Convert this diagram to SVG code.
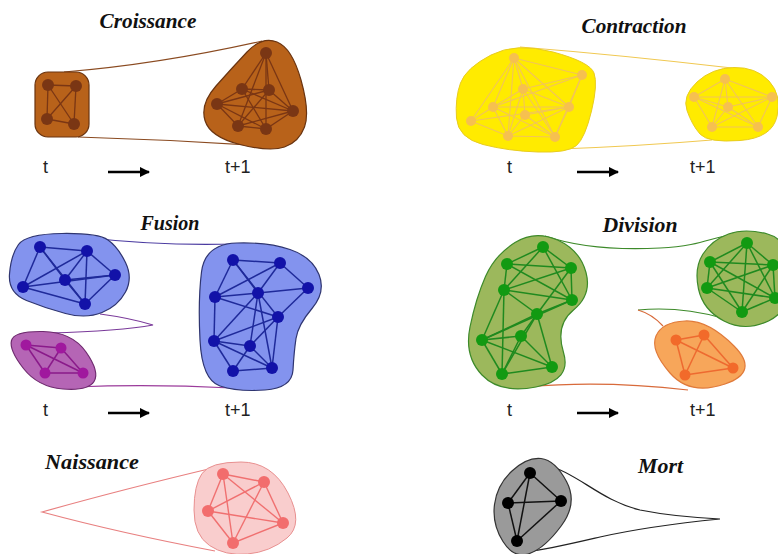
<svg xmlns="http://www.w3.org/2000/svg" width="778" height="554" viewBox="0 0 778 554">
<style>
.title{font-family:"Liberation Serif","Times New Roman",serif;font-weight:bold;font-style:italic;font-size:20px;fill:#111}
.tl{font-family:"Liberation Sans",Arial,sans-serif;font-size:18px;fill:#222}
.axis{stroke:#000;stroke-width:2.6;fill:none}
.cro .blob{fill:#b8621a;stroke:#6a3410;stroke-width:1.2}
.cro line{stroke:#7a3614;stroke-width:1.3}
.cro circle{fill:#7a3614}
.con .blob{fill:#ffeb00;stroke:#e8cc20;stroke-width:1}
.con line{stroke:#f2c45a;stroke-width:1.1}
.con circle{fill:#f6c050}
.blue .blob{fill:#8393ee;stroke:#2f3570;stroke-width:1.2}
.blue line{stroke:#1f2a9a;stroke-width:1.5}
.blue circle{fill:#1212a8}
.pur .blob{fill:#b565b5;stroke:#6e2a6e;stroke-width:1.2}
.pur line{stroke:#8a1a8a;stroke-width:1.5}
.pur circle{fill:#a0189e}
.grn .blob{fill:#9cb85c;stroke:#3d8a2a;stroke-width:1.2}
.grn line{stroke:#1f8a1f;stroke-width:1.5}
.grn circle{fill:#129a12}
.org .blob{fill:#f7a65a;stroke:#e07a3a;stroke-width:1.2}
.org line{stroke:#ee6a30;stroke-width:1.5}
.org circle{fill:#f26a2a}
.pink .blob{fill:#f9cdcd;stroke:#e89090;stroke-width:1}
.pink line{stroke:#f07070;stroke-width:1.4}
.pink circle{fill:#f26d6d}
.gray .blob{fill:#9a9a9a;stroke:#333;stroke-width:1.2}
.gray line{stroke:#111;stroke-width:1.5}
.gray circle{fill:#000}
.env{fill:none;stroke-width:1.2}
</style>
<defs>
<marker id="ah" viewBox="0 0 10 10" refX="9" refY="5" markerWidth="4" markerHeight="4" markerUnits="strokeWidth" orient="auto">
<path d="M0,0 L10,5 L0,10 Z" fill="#000"/>
</marker>
</defs>
<rect width="778" height="554" fill="#fff"/>

<g id="titles">
<text class="title" x="148" y="28" text-anchor="middle" textLength="97" lengthAdjust="spacingAndGlyphs">Croissance</text>
<text class="title" x="634" y="33" text-anchor="middle" textLength="105" lengthAdjust="spacingAndGlyphs">Contraction</text>
<text class="title" x="170" y="230" text-anchor="middle" textLength="59" lengthAdjust="spacingAndGlyphs">Fusion</text>
<text class="title" x="640" y="232" text-anchor="middle" textLength="75" lengthAdjust="spacingAndGlyphs">Division</text>
<text class="title" x="45" y="469" textLength="94" lengthAdjust="spacingAndGlyphs">Naissance</text>
<text class="title" x="638" y="473" textLength="45" lengthAdjust="spacingAndGlyphs">Mort</text>
</g>

<g id="time-labels">
<text class="tl" x="43" y="173">t</text>
<text class="tl" x="225" y="173">t+1</text>
<text class="tl" x="507" y="173">t</text>
<text class="tl" x="690" y="173">t+1</text>
<text class="tl" x="43" y="416">t</text>
<text class="tl" x="225" y="416">t+1</text>
<text class="tl" x="507" y="416">t</text>
<text class="tl" x="690" y="416">t+1</text>
<line class="axis" x1="108" y1="172" x2="149" y2="172" marker-end="url(#ah)"/>
<line class="axis" x1="577" y1="172" x2="618" y2="172" marker-end="url(#ah)"/>
<line class="axis" x1="108" y1="413" x2="149" y2="413" marker-end="url(#ah)"/>
<line class="axis" x1="577" y1="413" x2="618" y2="413" marker-end="url(#ah)"/>
</g>

<g id="connectors">
<path class="env" stroke="#8a4a20" d="M64,72 Q160,64 262,41"/>
<path class="env" stroke="#8a4a20" d="M78,137 Q180,140 282,147"/>
<path class="env" stroke="#f0c850" d="M520,47 Q620,55 732,68"/>
<path class="env" stroke="#f0c850" d="M560,149 Q640,146 712,140"/>
<path class="env" stroke="#4a3aa0" d="M90,238 Q160,246 236,244"/>
<path class="env" stroke="#7a3a9a" d="M100,314 Q130,318 153,325 Q120,331 50,333"/>
<path class="env" stroke="#9b3b9b" d="M75,387 Q150,384 232,388"/>
<path class="env" stroke="#3d8a2a" d="M545,236 C580,248 620,250 660,248 S710,238 730,235"/>
<path class="env" stroke="#3d8a2a" d="M722,318 Q680,306 638,310"/>
<path class="env" stroke="#d86a3a" d="M638,310 Q652,314 663,326"/>
<path class="env" stroke="#d86a3a" d="M528,387 Q600,380 688,390"/>
<path class="env" stroke="#e88080" d="M217,467 Q120,490 42,512 Q120,533 215,551"/>
<path class="env" stroke="#222" d="M548,465 C580,475 600,500 640,510 C670,516 700,518 720,519 C680,523 640,528 600,537 C570,544 545,550 525,552"/>
</g>

<g id="croissance-t" class="cro">
<rect class="blob" x="35" y="72" width="54" height="65" rx="13"/>
<line x1="48" y1="85" x2="76" y2="86"/><line x1="48" y1="85" x2="47" y2="119"/><line x1="48" y1="85" x2="74" y2="124"/>
<line x1="76" y1="86" x2="74" y2="124"/><line x1="76" y1="86" x2="47" y2="119"/><line x1="47" y1="119" x2="74" y2="124"/>
<circle cx="48" cy="85" r="6"/><circle cx="76" cy="86" r="6"/><circle cx="47" cy="119" r="6"/><circle cx="74" cy="124" r="6"/>
</g>

<g id="croissance-t1" class="cro">
<path class="blob" d="M277,42 Q292,48 301,80 Q310,112 304.5,127 Q299,142 284.5,147 Q270,152 240,144.5 Q210,137 205,120.5 Q200,104 216,86 Q232,68 247,52 Q262,36 277,42 Z"/>
<line x1="266" y1="53" x2="242" y2="89"/><line x1="266" y1="53" x2="269" y2="90"/><line x1="266" y1="53" x2="238" y2="126"/>
<line x1="266" y1="53" x2="266" y2="129"/><line x1="266" y1="53" x2="293" y2="111"/><line x1="242" y1="89" x2="269" y2="90"/>
<line x1="242" y1="89" x2="217" y2="104"/><line x1="242" y1="89" x2="293" y2="111"/><line x1="242" y1="89" x2="266" y2="129"/>
<line x1="269" y1="90" x2="217" y2="104"/><line x1="269" y1="90" x2="293" y2="111"/><line x1="269" y1="90" x2="238" y2="126"/>
<line x1="217" y1="104" x2="293" y2="111"/><line x1="217" y1="104" x2="238" y2="126"/><line x1="217" y1="104" x2="266" y2="129"/>
<line x1="238" y1="126" x2="266" y2="129"/><line x1="238" y1="126" x2="293" y2="111"/><line x1="266" y1="129" x2="293" y2="111"/>
<circle cx="266" cy="53" r="6"/><circle cx="242" cy="89" r="6"/><circle cx="269" cy="90" r="6"/><circle cx="217" cy="104" r="6"/>
<circle cx="293" cy="111" r="6"/><circle cx="238" cy="126" r="6"/><circle cx="266" cy="129" r="6"/>
</g>

<g id="contraction-t" class="con">
<path class="blob" d="M553,52 Q590,62 594,73 Q598,84 591.5,111 Q585,138 576.5,145.5 Q568,153 538,152 Q508,151 483,144.5 Q458,138 456.5,118 Q455,98 460.5,83 Q466,68 491,55 Q516,42 553,52 Z"/>
<line x1="514" y1="58" x2="582" y2="75"/><line x1="514" y1="58" x2="523" y2="89"/><line x1="514" y1="58" x2="493" y2="107"/>
<line x1="514" y1="58" x2="471" y2="121"/><line x1="514" y1="58" x2="508" y2="136"/><line x1="514" y1="58" x2="555" y2="137"/>
<line x1="514" y1="58" x2="569" y2="107"/><line x1="582" y1="75" x2="523" y2="89"/><line x1="582" y1="75" x2="569" y2="107"/>
<line x1="582" y1="75" x2="493" y2="107"/><line x1="582" y1="75" x2="555" y2="137"/><line x1="523" y1="89" x2="493" y2="107"/>
<line x1="523" y1="89" x2="569" y2="107"/><line x1="523" y1="89" x2="525" y2="115"/><line x1="523" y1="89" x2="555" y2="137"/>
<line x1="493" y1="107" x2="569" y2="107"/><line x1="493" y1="107" x2="471" y2="121"/><line x1="493" y1="107" x2="508" y2="136"/>
<line x1="493" y1="107" x2="555" y2="137"/><line x1="569" y1="107" x2="525" y2="115"/><line x1="569" y1="107" x2="508" y2="136"/>
<line x1="569" y1="107" x2="555" y2="137"/><line x1="525" y1="115" x2="508" y2="136"/><line x1="525" y1="115" x2="555" y2="137"/>
<line x1="471" y1="121" x2="508" y2="136"/><line x1="471" y1="121" x2="569" y2="107"/><line x1="508" y1="136" x2="555" y2="137"/>
<line x1="523" y1="89" x2="508" y2="136"/>
<circle cx="514" cy="58" r="5"/><circle cx="582" cy="75" r="5"/><circle cx="523" cy="89" r="5"/><circle cx="493" cy="107" r="5"/>
<circle cx="569" cy="107" r="5"/><circle cx="525" cy="115" r="5"/><circle cx="471" cy="121" r="5"/><circle cx="508" cy="136" r="5"/>
<circle cx="555" cy="137" r="5"/>
</g>

<g id="contraction-t1" class="con">
<path class="blob" d="M734,67.5 Q756,67 769,81 Q782,95 777,116.5 Q772,138 740,140.5 Q708,143 700,134 Q692,125 687,110.5 Q682,96 697,82 Q712,68 734,67.5 Z"/>
<line x1="725" y1="79" x2="694" y2="97"/><line x1="725" y1="79" x2="772" y2="97"/><line x1="725" y1="79" x2="712" y2="127"/>
<line x1="725" y1="79" x2="758" y2="127"/><line x1="725" y1="79" x2="728" y2="107"/><line x1="694" y1="97" x2="772" y2="97"/>
<line x1="694" y1="97" x2="728" y2="107"/><line x1="694" y1="97" x2="712" y2="127"/><line x1="694" y1="97" x2="758" y2="127"/>
<line x1="772" y1="97" x2="728" y2="107"/><line x1="772" y1="97" x2="712" y2="127"/><line x1="772" y1="97" x2="758" y2="127"/>
<line x1="728" y1="107" x2="712" y2="127"/><line x1="728" y1="107" x2="758" y2="127"/><line x1="712" y1="127" x2="758" y2="127"/>
<circle cx="725" cy="79" r="5"/><circle cx="694" cy="97" r="5"/><circle cx="772" cy="97" r="5"/>
<circle cx="728" cy="107" r="5"/><circle cx="712" cy="127" r="5"/><circle cx="758" cy="127" r="5"/>
</g>

<g id="fusion-t-a" class="blue">
<path class="blob" d="M62,233.5 Q98,233 108,240 Q118,247 125.5,262.5 Q133,278 125.5,292 Q118,306 102,312.5 Q86,319 65.5,313.5 Q45,308 26.5,300.5 Q8,293 9.5,274 Q11,255 18.5,244.5 Q26,234 62,233.5 Z"/>
<line x1="40" y1="247" x2="87" y2="251"/><line x1="40" y1="247" x2="65" y2="280"/><line x1="40" y1="247" x2="23" y2="287"/>
<line x1="40" y1="247" x2="85" y2="304"/><line x1="87" y1="251" x2="65" y2="280"/><line x1="87" y1="251" x2="115" y2="275"/>
<line x1="87" y1="251" x2="85" y2="304"/><line x1="87" y1="251" x2="23" y2="287"/><line x1="65" y1="280" x2="115" y2="275"/>
<line x1="65" y1="280" x2="85" y2="304"/><line x1="23" y1="287" x2="115" y2="275"/><line x1="23" y1="287" x2="85" y2="304"/>
<line x1="115" y1="275" x2="85" y2="304"/>
<circle cx="40" cy="247" r="6"/><circle cx="87" cy="251" r="6"/><circle cx="65" cy="280" r="6"/>
<circle cx="115" cy="275" r="6"/><circle cx="23" cy="287" r="6"/><circle cx="85" cy="304" r="6"/>
</g>

<g id="fusion-t-b" class="pur">
<path class="blob" d="M43,331.5 Q72,332 86,352 Q100,372 94,381.5 Q88,391 63,389 Q38,387 23.5,368.5 Q9,350 11.5,340.5 Q14,331 43,331.5 Z"/>
<line x1="26" y1="345" x2="61" y2="348"/><line x1="26" y1="345" x2="45" y2="373"/><line x1="26" y1="345" x2="83" y2="373"/>
<line x1="61" y1="348" x2="45" y2="373"/><line x1="61" y1="348" x2="83" y2="373"/><line x1="45" y1="373" x2="83" y2="373"/>
<circle cx="26" cy="345" r="5.5"/><circle cx="61" cy="348" r="5.5"/><circle cx="45" cy="373" r="5.5"/><circle cx="83" cy="373" r="5.5"/>
</g>

<g id="fusion-t1" class="blue">
<path class="blob" d="M236.5,243 Q268,242 290,249.5 Q312,257 319,274.5 Q326,292 312,308.5 Q298,325 296,338.5 Q294,352 293,370 Q292,388 265,390 Q238,392 220,386 Q202,380 200,340 Q198,300 201.5,272 Q205,244 236.5,243 Z"/>
<line x1="233" y1="260" x2="280" y2="263"/><line x1="233" y1="260" x2="215" y2="297"/><line x1="233" y1="260" x2="258" y2="293"/>
<line x1="233" y1="260" x2="278" y2="317"/><line x1="280" y1="263" x2="258" y2="293"/><line x1="280" y1="263" x2="308" y2="288"/>
<line x1="280" y1="263" x2="215" y2="297"/><line x1="308" y1="288" x2="258" y2="293"/><line x1="308" y1="288" x2="278" y2="317"/>
<line x1="215" y1="297" x2="258" y2="293"/><line x1="215" y1="297" x2="278" y2="317"/><line x1="258" y1="293" x2="250" y2="346"/>
<line x1="258" y1="293" x2="272" y2="368"/><line x1="258" y1="293" x2="214" y2="341"/><line x1="278" y1="317" x2="214" y2="341"/>
<line x1="278" y1="317" x2="250" y2="346"/><line x1="278" y1="317" x2="272" y2="368"/><line x1="214" y1="341" x2="250" y2="346"/>
<line x1="214" y1="341" x2="233" y2="371"/><line x1="214" y1="341" x2="272" y2="368"/><line x1="250" y1="346" x2="233" y2="371"/>
<line x1="250" y1="346" x2="272" y2="368"/><line x1="233" y1="371" x2="272" y2="368"/><line x1="215" y1="297" x2="214" y2="341"/>
<circle cx="233" cy="260" r="6"/><circle cx="280" cy="263" r="6"/><circle cx="308" cy="288" r="6"/><circle cx="215" cy="297" r="6"/>
<circle cx="258" cy="293" r="6"/><circle cx="278" cy="317" r="6"/><circle cx="214" cy="341" r="6"/><circle cx="250" cy="346" r="6"/>
<circle cx="233" cy="371" r="6"/><circle cx="272" cy="368" r="6"/>
</g>

<g id="division-t" class="grn">
<path class="blob" d="M557.5,240 Q580,250 586,272.5 Q592,295 573.5,310 Q555,325 563.5,352.5 Q572,380 536,387 Q500,394 482,375 Q464,356 470,327 Q476,298 485.5,276.5 Q495,255 515,242.5 Q535,230 557.5,240 Z"/>
<line x1="543" y1="247" x2="507" y2="264"/><line x1="543" y1="247" x2="571" y2="268"/><line x1="543" y1="247" x2="504" y2="290"/>
<line x1="543" y1="247" x2="572" y2="300"/><line x1="507" y1="264" x2="571" y2="268"/><line x1="507" y1="264" x2="504" y2="290"/>
<line x1="507" y1="264" x2="572" y2="300"/><line x1="571" y1="268" x2="504" y2="290"/><line x1="571" y1="268" x2="572" y2="300"/>
<line x1="571" y1="268" x2="537" y2="314"/><line x1="504" y1="290" x2="572" y2="300"/><line x1="504" y1="290" x2="537" y2="314"/>
<line x1="504" y1="290" x2="482" y2="340"/><line x1="504" y1="290" x2="502" y2="374"/><line x1="572" y1="300" x2="537" y2="314"/>
<line x1="572" y1="300" x2="482" y2="340"/><line x1="537" y1="314" x2="482" y2="340"/><line x1="537" y1="314" x2="521" y2="336"/>
<line x1="537" y1="314" x2="552" y2="367"/><line x1="537" y1="314" x2="502" y2="374"/><line x1="482" y1="340" x2="521" y2="336"/>
<line x1="482" y1="340" x2="552" y2="367"/><line x1="482" y1="340" x2="502" y2="374"/><line x1="521" y1="336" x2="552" y2="367"/>
<line x1="521" y1="336" x2="502" y2="374"/><line x1="552" y1="367" x2="502" y2="374"/>
<circle cx="543" cy="247" r="6"/><circle cx="507" cy="264" r="6"/><circle cx="571" cy="268" r="6"/><circle cx="504" cy="290" r="6"/>
<circle cx="572" cy="300" r="6"/><circle cx="537" cy="314" r="6"/><circle cx="482" cy="340" r="6"/><circle cx="521" cy="336" r="6"/>
<circle cx="552" cy="367" r="6"/><circle cx="502" cy="374" r="6"/>
</g>

<g id="division-t1-a" class="grn">
<path class="blob" d="M767.5,234 Q790,240 791,275 Q792,310 768.5,321 Q745,332 724,321 Q703,310 698.5,289 Q694,268 703,254 Q712,240 728.5,234 Q745,228 767.5,234 Z"/>
<line x1="747" y1="243" x2="710" y2="262"/><line x1="747" y1="243" x2="773" y2="265"/><line x1="747" y1="243" x2="707" y2="288"/>
<line x1="747" y1="243" x2="775" y2="298"/><line x1="747" y1="243" x2="742" y2="312"/><line x1="710" y1="262" x2="773" y2="265"/>
<line x1="710" y1="262" x2="707" y2="288"/><line x1="710" y1="262" x2="775" y2="298"/><line x1="710" y1="262" x2="742" y2="312"/>
<line x1="773" y1="265" x2="707" y2="288"/><line x1="773" y1="265" x2="775" y2="298"/><line x1="773" y1="265" x2="742" y2="312"/>
<line x1="707" y1="288" x2="775" y2="298"/><line x1="707" y1="288" x2="742" y2="312"/><line x1="775" y1="298" x2="742" y2="312"/>
<circle cx="747" cy="243" r="6"/><circle cx="710" cy="262" r="6"/><circle cx="773" cy="265" r="6"/>
<circle cx="707" cy="288" r="6"/><circle cx="775" cy="298" r="6"/><circle cx="742" cy="312" r="6"/>
</g>

<g id="division-t1-b" class="org">
<path class="blob" d="M685,321 Q708,320 734,346 Q760,372 725,384 Q690,396 670,373 Q650,350 656,336 Q662,322 685,321 Z"/>
<line x1="676" y1="340" x2="704" y2="335"/><line x1="676" y1="340" x2="733" y2="368"/><line x1="676" y1="340" x2="685" y2="375"/>
<line x1="704" y1="335" x2="733" y2="368"/><line x1="704" y1="335" x2="685" y2="375"/><line x1="733" y1="368" x2="685" y2="375"/>
<circle cx="676" cy="340" r="5.5"/><circle cx="704" cy="335" r="5.5"/><circle cx="733" cy="368" r="5.5"/><circle cx="685" cy="375" r="5.5"/>
</g>

<g id="naissance" class="pink">
<path class="blob" d="M241,462 Q272,462 288,493 Q304,524 287,538 Q270,552 247.5,554 Q225,556 209.5,545.5 Q194,535 194,510 Q194,485 202,473.5 Q210,462 241,462 Z"/>
<line x1="223" y1="474" x2="264" y2="482"/><line x1="223" y1="474" x2="208" y2="511"/><line x1="223" y1="474" x2="233" y2="543"/>
<line x1="223" y1="474" x2="283" y2="523"/><line x1="264" y1="482" x2="208" y2="511"/><line x1="264" y1="482" x2="283" y2="523"/>
<line x1="264" y1="482" x2="233" y2="543"/><line x1="208" y1="511" x2="283" y2="523"/><line x1="208" y1="511" x2="233" y2="543"/>
<line x1="283" y1="523" x2="233" y2="543"/>
<circle cx="223" cy="474" r="6"/><circle cx="264" cy="482" r="6"/><circle cx="208" cy="511" r="6"/>
<circle cx="283" cy="523" r="6"/><circle cx="233" cy="543" r="6"/>
</g>

<g id="mort" class="gray">
<path class="blob" d="M541,458.5 Q555,460 566.5,481.5 Q578,503 561.5,525.5 Q545,548 529.5,553.5 Q514,559 503,541.5 Q492,524 494.5,504.5 Q497,485 512,471 Q527,457 541,458.5 Z"/>
<line x1="530" y1="473" x2="508" y2="503"/><line x1="530" y1="473" x2="561" y2="501"/><line x1="530" y1="473" x2="517" y2="541"/>
<line x1="508" y1="503" x2="561" y2="501"/><line x1="508" y1="503" x2="517" y2="541"/><line x1="561" y1="501" x2="517" y2="541"/>
<circle cx="530" cy="473" r="6"/><circle cx="508" cy="503" r="6"/><circle cx="561" cy="501" r="6"/><circle cx="517" cy="541" r="6"/>
</g>
</svg>
